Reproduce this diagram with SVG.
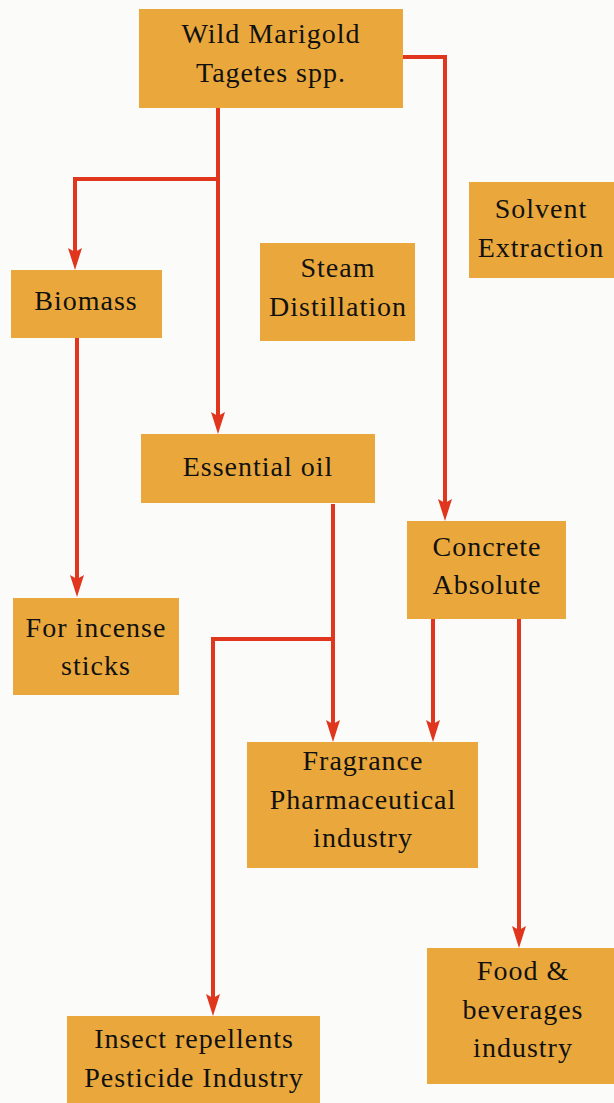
<svg xmlns="http://www.w3.org/2000/svg" width="614" height="1103" viewBox="0 0 614 1103">
<style>
.box{fill:#EAA83C;}
.t{font-family:"Liberation Serif","Times New Roman",serif;font-size:28px;fill:#111;text-anchor:middle;letter-spacing:1px;}
.c{fill:none;stroke:#E0361E;stroke-width:4;stroke-linejoin:miter;}
</style>
<defs>
<marker id="ah" viewBox="0 0 22 14" refX="12" refY="7" markerWidth="22" markerHeight="14" markerUnits="userSpaceOnUse" orient="auto">
<path d="M0,0 L4,7 L0,14 L22,7 Z" fill="#E0361E"/>
</marker>
</defs>
<rect width="614" height="1103" fill="#FBFBF9"/>
<g id="connectors">
<path class="c" d="M218,108 V424" marker-end="url(#ah)"/>
<path class="c" d="M218,179 H75 V260" marker-end="url(#ah)"/>
<path class="c" d="M403,57 H445 V511" marker-end="url(#ah)"/>
<path class="c" d="M77,338 V587" marker-end="url(#ah)"/>
<path class="c" d="M333,504 V732" marker-end="url(#ah)"/>
<path class="c" d="M333,639 H213 V1006" marker-end="url(#ah)"/>
<path class="c" d="M433,619 V732" marker-end="url(#ah)"/>
<path class="c" d="M519,619 V938" marker-end="url(#ah)"/>
</g>
<g id="wild-marigold">
<rect class="box" x="139" y="9" width="264" height="99"/>
<text class="t" x="271" y="43">Wild Marigold</text>
<text class="t" x="271" y="82">Tagetes spp.</text>
</g>
<g id="solvent-extraction">
<rect class="box" x="469" y="182" width="145" height="96"/>
<text class="t" x="541" y="218">Solvent</text>
<text class="t" x="541" y="257">Extraction</text>
</g>
<g id="steam-distillation">
<rect class="box" x="260" y="243" width="155" height="98"/>
<text class="t" x="338" y="277">Steam</text>
<text class="t" x="338" y="316">Distillation</text>
</g>
<g id="biomass">
<rect class="box" x="11" y="270" width="151" height="68"/>
<text class="t" x="86" y="310">Biomass</text>
</g>
<g id="essential-oil">
<rect class="box" x="141" y="434" width="234" height="69"/>
<text class="t" x="258" y="476">Essential oil</text>
</g>
<g id="incense">
<rect class="box" x="13" y="598" width="166" height="97"/>
<text class="t" x="96" y="637">For incense</text>
<text class="t" x="96" y="675">sticks</text>
</g>
<g id="concrete-absolute">
<rect class="box" x="407" y="521" width="159" height="98"/>
<text class="t" x="487" y="556">Concrete</text>
<text class="t" x="487" y="594">Absolute</text>
</g>
<g id="fragrance">
<rect class="box" x="247" y="742" width="231" height="126"/>
<text class="t" x="363" y="770">Fragrance</text>
<text class="t" x="363" y="809">Pharmaceutical</text>
<text class="t" x="363" y="847">industry</text>
</g>
<g id="food">
<rect class="box" x="427" y="948" width="187" height="136"/>
<text class="t" x="523" y="980">Food &amp;</text>
<text class="t" x="523" y="1019">beverages</text>
<text class="t" x="523" y="1057">industry</text>
</g>
<g id="insect">
<rect class="box" x="67" y="1016" width="253" height="87"/>
<text class="t" x="194" y="1048">Insect repellents</text>
<text class="t" x="194" y="1087">Pesticide Industry</text>
</g>
</svg>
